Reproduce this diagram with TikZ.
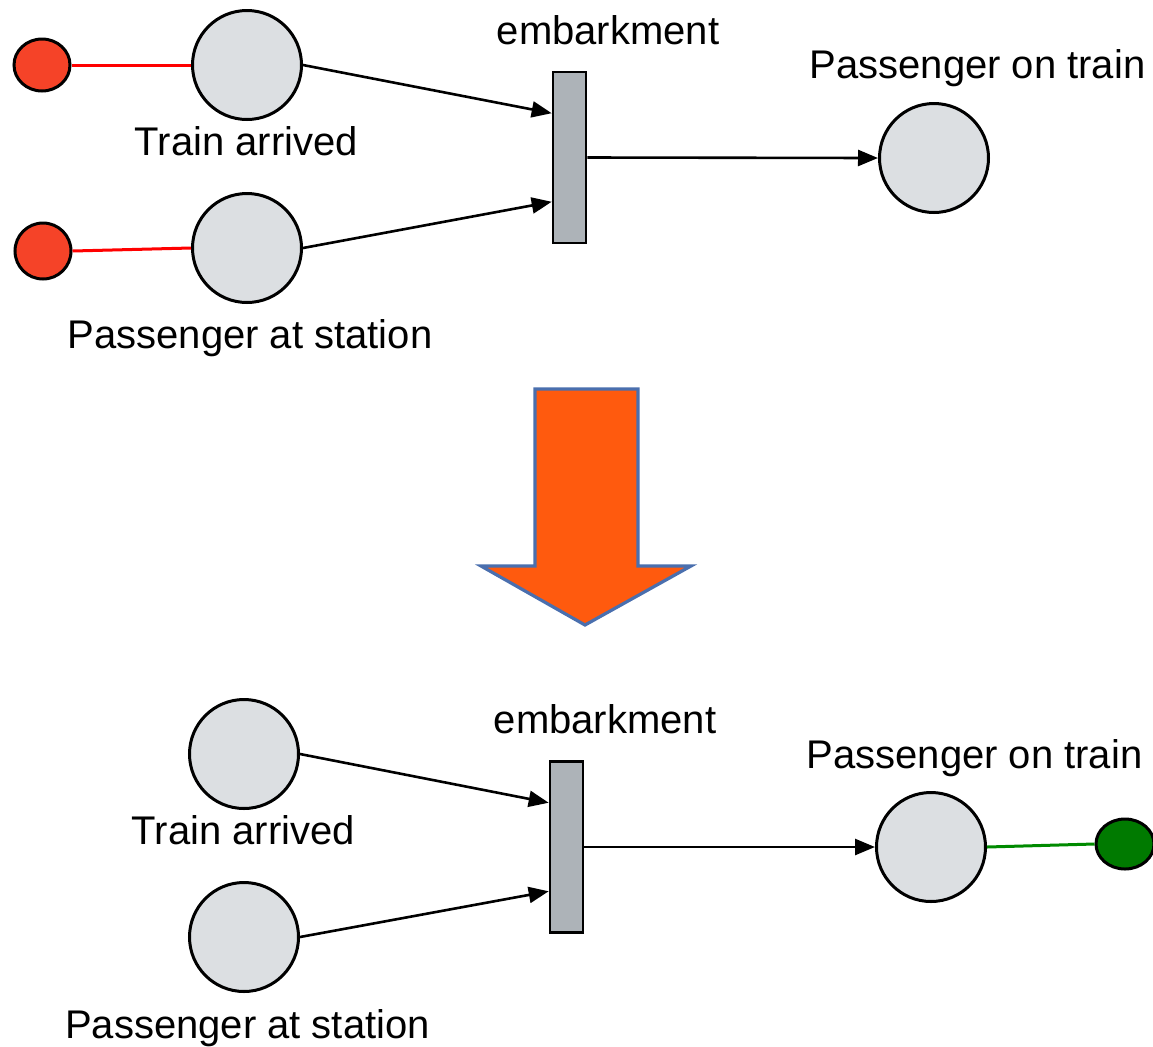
\documentclass[tikz,border=0pt]{standalone}
\usepackage{fontspec}
\setmainfont{Liberation Sans}
\usetikzlibrary{arrows.meta,calc,shapes.geometric}
\definecolor{placefill}{HTML}{DCDFE2}
\definecolor{transfill}{HTML}{ADB3B8}
\definecolor{tokenred}{HTML}{F54328}
\definecolor{tokengreen}{HTML}{007A00}
\definecolor{linkred}{HTML}{FF0000}
\definecolor{linkgreen}{HTML}{008A00}
\definecolor{bigfill}{HTML}{FF5A0E}
\definecolor{bigedge}{HTML}{4A6FAE}

\begin{document}
\begin{tikzpicture}[x=0.5pt,y=-0.5pt,
  placenode/.style={circle,draw=black,line width=1.5pt,fill=placefill,minimum size=54.5pt,inner sep=0pt},
  transnode/.style={rectangle,draw=black,line width=1.3pt,fill=transfill,minimum width=16.5pt,minimum height=85.5pt,inner sep=0pt},
  tokennode/.style={ellipse,draw=black,line width=1.5pt,inner sep=0pt,minimum width=28pt,minimum height=26pt},
  txt/.style={anchor=base,inner sep=0pt,font=\fontsize{20pt}{24pt}\selectfont},
  flow/.style={draw=black,line width=1.3pt,-{Triangle[length=10pt,width=8pt]}},
  redlink/.style={draw=linkred,line width=1.5pt},
  greenlink/.style={draw=linkgreen,line width=1.5pt},
]
\useasboundingbox (0,0) rectangle (1153,1046);

% ---------- net before firing ----------
\node[placenode] (ta1) at (247,65) {};
\node[placenode] (ps1) at (247,248) {};
\node[transnode] (t1) at (569.5,157.5) {};
\node[placenode] (pot1) at (934,158) {};
\node[tokennode,fill=tokenred] (rk1) at (42,65) {};
\node[tokennode,fill=tokenred,minimum height=28pt] (rk2) at (43,251) {};

\node[txt] (lta1) at (246.5,155) {Train arrived};
\node[txt] (lps1) at (250,348) {Passenger at station};
\node[txt] (lt1) at (608,44) {embarkment};
\node[txt] (lpot1) at (977.5,78) {Passenger on train};

\draw[redlink] (rk1.east) -- (ta1.west);
\draw[redlink] (rk2.east) -- (ps1.west);
\draw[flow] (ta1.east) -- ($(t1.north west)!0.245!(t1.south west)$);
\draw[flow] (ps1.east) -- ($(t1.north west)!0.755!(t1.south west)$);
\draw[flow] (t1.east) -- (pot1.west);

% ---------- firing arrow ----------
\draw[fill=bigfill,draw=bigedge,line width=1.6pt,line join=miter]
  (535,389) -- (638,389) -- (638,566) -- (691,566) -- (585,625)
  -- (481,566) -- (535,566) -- cycle;

% ---------- net after firing ----------
\node[placenode] (ta2) at (244,754) {};
\node[placenode] (ps2) at (244,937) {};
\node[transnode] (t2) at (566.5,847) {};
\node[placenode] (pot2) at (931,847) {};
\node[tokennode,fill=tokengreen,minimum width=29pt,minimum height=25pt] (gk) at (1125,844) {};

\node[txt] (lta2) at (243.5,844) {Train arrived};
\node[txt] (lps2) at (247.5,1038) {Passenger at station};
\node[txt] (lt2) at (605,733) {embarkment};
\node[txt] (lpot2) at (974.5,768) {Passenger on train};

\draw[flow] (ta2.east) -- ($(t2.north west)!0.245!(t2.south west)$);
\draw[flow] (ps2.east) -- ($(t2.north west)!0.755!(t2.south west)$);
\draw[flow] (t2.east) -- (pot2.west);
\draw[greenlink] (pot2.east) -- (gk.west);
\end{tikzpicture}
\end{document}
